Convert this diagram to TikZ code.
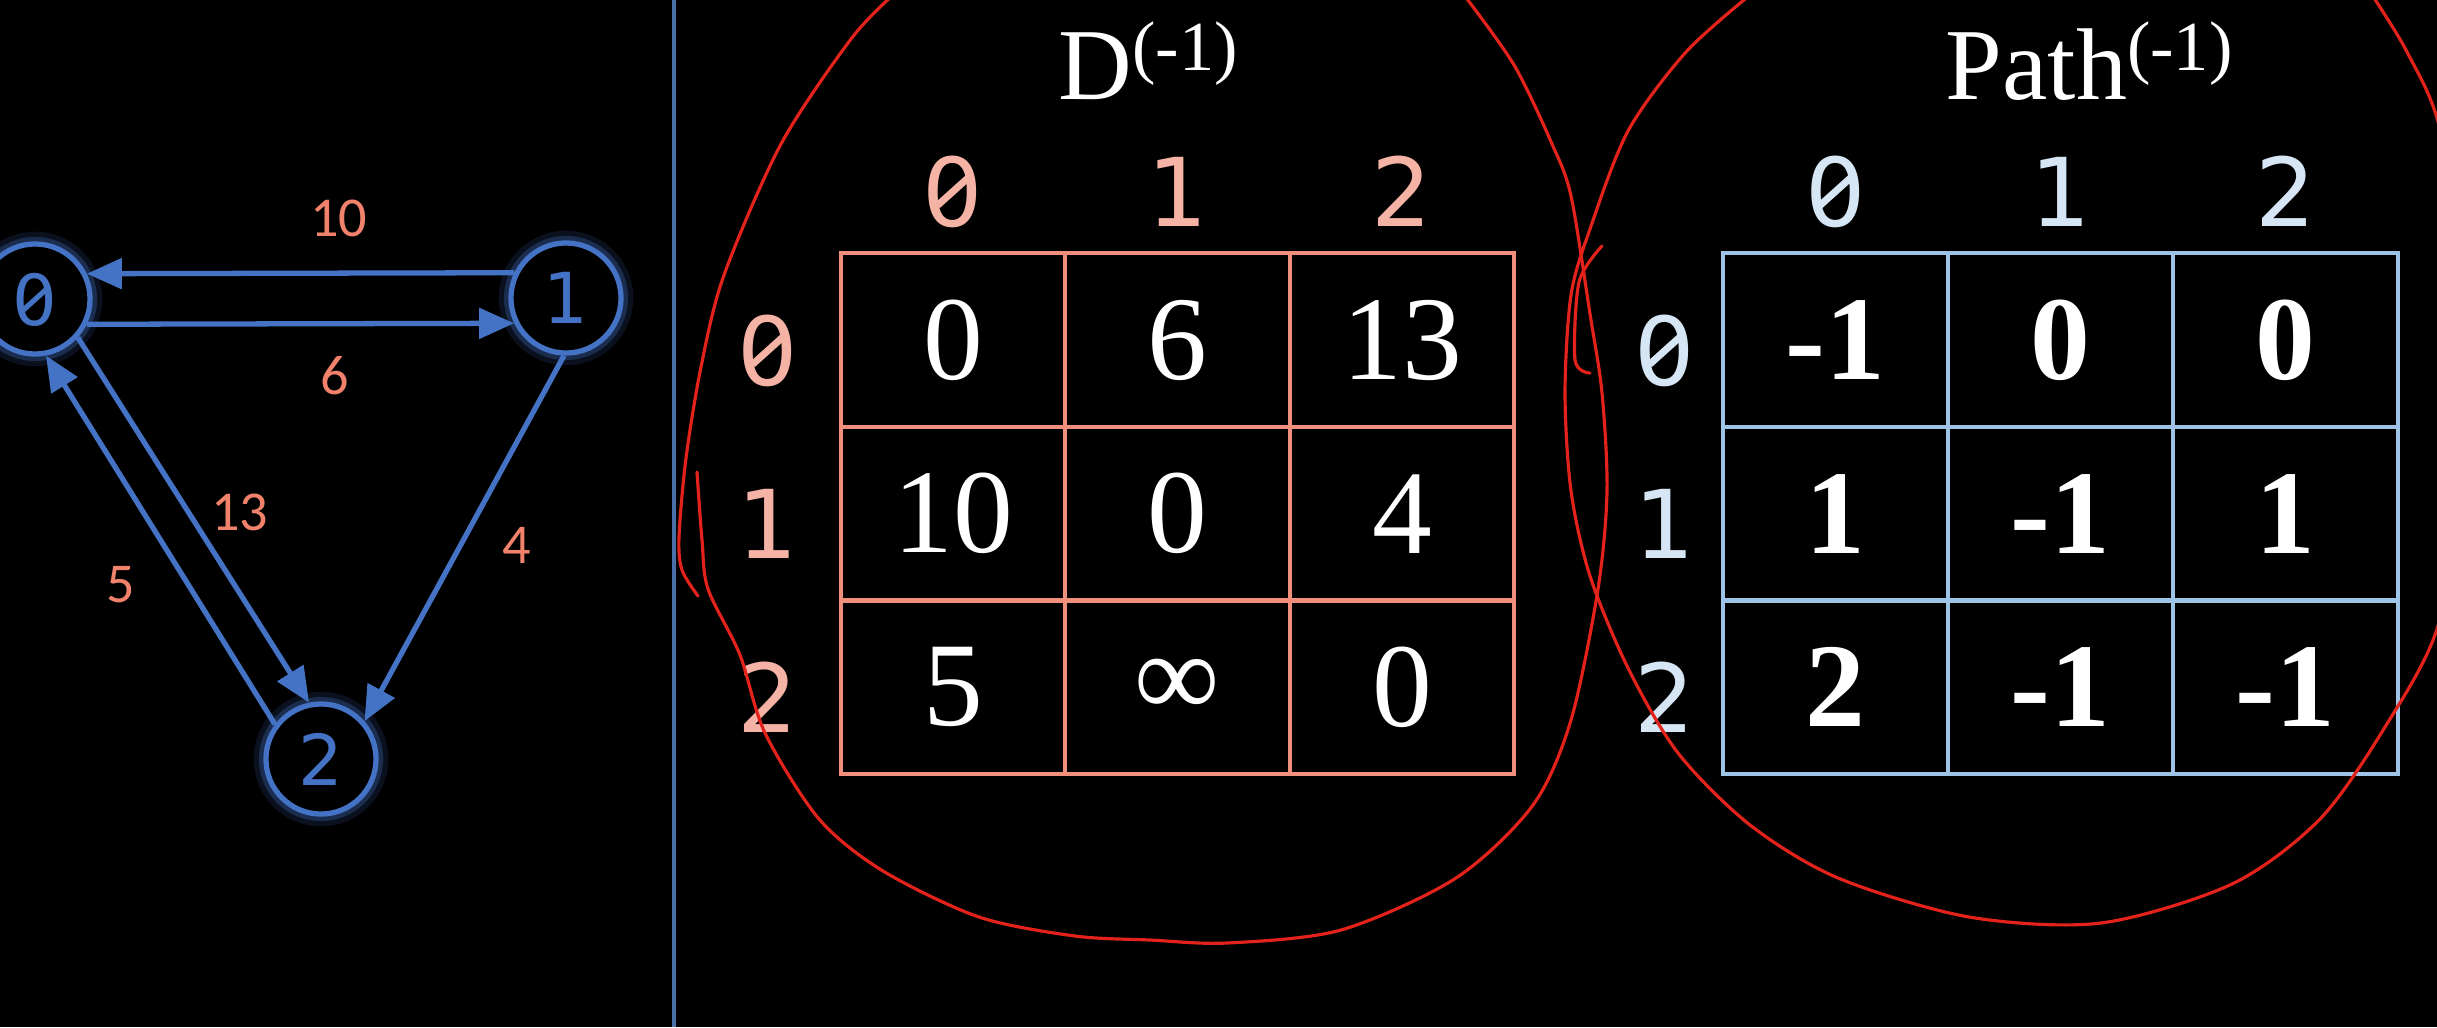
\documentclass[tikz,border=0pt]{standalone}
\usepackage{fontspec}
\setmainfont{Liberation Serif}
\newfontfamily\digitfont{DejaVu Sans}
\newfontfamily\labelfont{Carlito}
\usetikzlibrary{arrows.meta,positioning}
\definecolor{gblue}{HTML}{4472C4}
\definecolor{wsalmon}{HTML}{F0826C}
\definecolor{dlinecol}{HTML}{F0907C}
\definecolor{dheadcol}{HTML}{F5B3A5}
\definecolor{plinecol}{HTML}{9DC3E6}
\definecolor{pheadcol}{HTML}{D6E6F5}
\definecolor{sepblue}{HTML}{4A6FA8}
\definecolor{loopred}{HTML}{E3231B}
% slashed zero
\newcommand\szero{\ooalign{0\cr\hidewidth\raisebox{0.364em}{%
  \rotatebox[origin=c]{42}{\rule[-0.037em]{0.44em}{0.074em}}}\hidewidth\cr}}
\newcommand\hdr[1]{\ifnum#1=0 \szero\else#1\fi}
\tikzset{
  gnode/.style={
    circle, draw=gblue, fill=black, line width=1.5pt,
    minimum size=1.1cm, inner sep=0pt, text=gblue,
    font=\digitfont\fontsize{20}{24}\selectfont,
    preaction={draw=gblue, line width=7pt, opacity=0.15},
    preaction={draw=gblue, line width=4pt, opacity=0.3}
  },
  gedge/.style={-{Triangle[length=3.5mm,width=3mm]}, draw=gblue, line width=1.5pt},
  wlabel/.style={text=wsalmon, font=\labelfont\fontsize{16}{18}\selectfont, inner sep=0pt},
  sepline/.style={draw=sepblue, line width=1.4pt},
  dcell/.style={
    draw=dlinecol, line width=1.2pt, minimum width=2.245cm,
    minimum height=1.737cm, inner sep=0pt, text=white,
    font=\fontsize{34}{40}\selectfont
  },
  pcell/.style={
    draw=plinecol, line width=1.2pt, minimum width=2.25cm,
    minimum height=1.737cm, inner sep=0pt, text=white,
    font=\fontsize{34}{40}\selectfont\bfseries
  },
  dhead/.style={text=dheadcol, anchor=base, inner sep=0pt,
    font=\digitfont\fontsize{27}{30}\selectfont},
  phead/.style={text=pheadcol, anchor=base, inner sep=0pt,
    font=\digitfont\fontsize{27}{30}\selectfont},
  mtitle/.style={text=white, anchor=base west, inner sep=0pt,
    font=\fontsize{29}{34}\selectfont},
  redloop/.style={draw=loopred, line width=0.9pt, line cap=round}
}
\newcommand\supm{\raisebox{8pt}{\fontsize{20}{23}\selectfont(-1)}}

\begin{document}
\begin{tikzpicture}[x=0.01cm, y=-0.01cm]
  \useasboundingbox (0,0) rectangle (2437,1027);
  \fill[black] (0,0) rectangle (2437,1027);
  \draw[sepline] (674,0) -- (674,1027);

  % graph
  \node[gnode] (n0) at (35,299)  {\szero};
  \node[gnode] (n1) at (566,298) {1};
  \node[gnode] (n2) at (321,759) {2};

  \draw[gedge] (n1.154) -- (n0.26)
    node[wlabel, pos=0.41, above=3.4mm] (w10) {10};
  \draw[gedge] (n0.-26) -- (n1.206)
    node[wlabel, pos=0.58, below=3mm] (w6) {6};
  \draw[gedge] (n0.-42) -- (n2.102)
    node[wlabel, pos=0.48, right=2mm] (w13) {13};
  \draw[gedge] (n2.143.6) -- (n0.-79.8)
    node[wlabel, pos=0.38, left=5mm] (w5) {5};
  \draw[gedge] (n1.-92) -- (n2.41)
    node[wlabel, pos=0.52, right=4mm] (w4) {4};

  % distance matrix
  \node[mtitle] (dtitle) at (1058,99) {D\supm};
  \foreach \r/\vals in {0/{0,6,13},1/{10,0,4},2/{5,∞,0}}
    \foreach \v [count=\c from 0] in \vals
      \node[dcell] (d-\r-\c) at ({953+224.5*\c},{340+173.7*\r}) {\v};
  \foreach \c in {0,1,2} {
    \node[dhead] (dcol-\c) at ({953+224.5*\c},226) {\hdr{\c}};
    \node[dhead] (drow-\c) at (768,{385+173.7*\c}) {\hdr{\c}};
  }

  % path matrix
  \node[mtitle] (ptitle) at (1945,99) {Path\supm};
  \foreach \r/\vals in {0/{-1,0,0},1/{1,-1,1},2/{2,-1,-1}}
    \foreach \v [count=\c from 0] in \vals
      \node[pcell] (p-\r-\c) at ({1835.5+225*\c},{340+173.7*\r}) {\v};
  \foreach \c in {0,1,2} {
    \node[phead] (pcol-\c) at ({1835.5+225*\c},226) {\hdr{\c}};
    \node[phead] (prow-\c) at (1665,{385+173.7*\c}) {\hdr{\c}};
  }

  % hand drawn loops
  \begin{scope}
    \clip (0,0) rectangle (2437,1027);
    \draw[redloop] plot[smooth] coordinates {(893,-5) (851,39) (781,144)
      (724,275) (701,367) (686,458) (679,537) (682,570) (698,596)};
    \draw[redloop] plot[smooth] coordinates {(697,472) (702,540) (708,589)
      (740,655) (765,733) (819,819) (883,871) (979,917) (1075,936)
      (1150,940) (1227,943) (1341,930) (1456,878) (1533,805) (1571,720)
      (1598,589) (1607,491) (1602,393) (1590,314) (1571,196) (1552,144)
      (1514,65) (1464,-5)};
    \draw[redloop] plot[smooth] coordinates {(1750,-5) (1686,52) (1628,131)
      (1590,229) (1571,295) (1565,393) (1571,491) (1590,576) (1628,668)
      (1678,753) (1750,825) (1838,878) (1969,917) (2101,923) (2232,884)
      (2320,819) (2385,727) (2437,629) (2465,480) (2462,300) (2440,130)
      (2407,52) (2372,-5)};
    \draw[redloop] plot[smooth] coordinates {(1602,246) (1579,282)
      (1575,360) (1590,373)};
  \end{scope}
\end{tikzpicture}
\end{document}
